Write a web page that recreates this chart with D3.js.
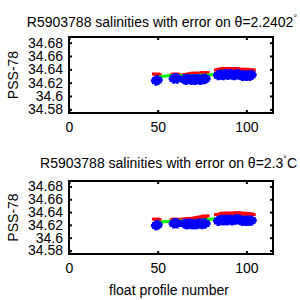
<!DOCTYPE html>
<html>
<head>
<meta charset="utf-8">
<script src="https://cdn.jsdelivr.net/npm/d3@7"></script>
<style>
  body { margin: 0; background: #fff; }
  text { font-family: "Liberation Sans", Arial, sans-serif; fill: #000; }
</style>
</head>
<body>
<svg id="chart" width="300" height="300"></svg>
<script>
// profile numbers that have data
const profiles = [49, 50, 59, 60, 61, 65, 66, 67, 68, 69, 70, 71, 72, 73, 74, 75, 76, 77,
  84, 85, 86, 87, 88, 89, 90, 91, 92, 93, 94, 95, 96, 97, 98, 99, 100, 101, 102, 103];

// top panel (theta = 2.2402)
const floatTop = [34.623, 34.624, 34.626, 34.627, 34.626, 34.625, 34.624, 34.626, 34.625, 34.624,
  34.625, 34.624, 34.625, 34.625, 34.624, 34.625, 34.625, 34.626,
  34.631, 34.632, 34.632, 34.631, 34.633, 34.632, 34.632, 34.633, 34.632, 34.631,
  34.632, 34.633, 34.632, 34.631, 34.630, 34.631, 34.630, 34.631, 34.630, 34.632];
const mappedTop = [34.629, 34.628, 34.628, 34.629, 34.628, 34.627, 34.628, 34.628, 34.629, 34.629,
  34.630, 34.630, 34.630, 34.630, 34.629, 34.630, 34.631, 34.631,
  34.635, 34.636, 34.636, 34.637, 34.637, 34.637, 34.637, 34.636, 34.636, 34.637,
  34.637, 34.636, 34.636, 34.635, 34.636, 34.635, 34.636, 34.635, 34.635, 34.635];
const calTop = [34.629, 34.629, 34.631, 34.631, 34.631, 34.630, 34.630, 34.630, 34.630, 34.630,
  34.630, 34.630, 34.630, 34.631, 34.631, 34.631, 34.631, 34.631,
  34.633, 34.634, 34.634, 34.635, 34.635, 34.635, 34.636, 34.636, 34.636, 34.636,
  34.636, 34.636, 34.636, 34.635, 34.635, 34.635, 34.635, 34.634, 34.634, 34.634];

// bottom panel (theta = 2.3)
const floatBot = [34.619, 34.620, 34.622, 34.623, 34.622, 34.622, 34.621, 34.621, 34.622, 34.621,
  34.621, 34.621, 34.621, 34.622, 34.622, 34.621, 34.622, 34.622,
  34.626, 34.627, 34.628, 34.627, 34.628, 34.627, 34.628, 34.628, 34.627, 34.628,
  34.628, 34.629, 34.628, 34.627, 34.626, 34.627, 34.626, 34.627, 34.626, 34.627];
const mappedBot = [34.625, 34.624, 34.624, 34.625, 34.624, 34.625, 34.625, 34.625, 34.626, 34.626,
  34.626, 34.626, 34.627, 34.627, 34.628, 34.628, 34.629, 34.630,
  34.632, 34.632, 34.633, 34.634, 34.634, 34.634, 34.634, 34.634, 34.634, 34.634,
  34.634, 34.635, 34.634, 34.633, 34.634, 34.633, 34.634, 34.633, 34.633, 34.632];
const calBot = [34.624, 34.624, 34.626, 34.627, 34.626, 34.626, 34.626, 34.626, 34.626, 34.626,
  34.626, 34.626, 34.627, 34.627, 34.627, 34.627, 34.628, 34.628,
  34.630, 34.631, 34.631, 34.632, 34.632, 34.632, 34.633, 34.633, 34.633, 34.633,
  34.633, 34.633, 34.633, 34.632, 34.632, 34.632, 34.632, 34.631, 34.631, 34.631];

const errMapped = 0.004;
const errFloat = 0.003;

const yTicks = [34.58, 34.6, 34.62, 34.64, 34.66, 34.68];
const yTickLabels = ["34.58", "34.6", "34.62", "34.64", "34.66", "34.68"];
const xTicks = [0, 50, 100];

const panels = [
  { title: "R5903788 salinities with error on \u03b8=2.2402", unit: "\u00b0", top: 37, bottom: 113,
    titleY: 27, float: floatTop, mapped: mappedTop, cal: calTop, xlabel: false },
  { title: "R5903788 salinities with error on \u03b8=2.3", unit: "\u00b0C", top: 181, bottom: 254,
    titleY: 168, float: floatBot, mapped: mappedBot, cal: calBot, xlabel: true }
];

const svg = d3.select("#chart");
const left = 69, right = 273;

const x = d3.scaleLinear().domain([0, 115]).range([left, right]);

panels.forEach(p => {
  const y = d3.scaleLinear().domain([34.5745, 34.6885]).range([p.bottom, p.top]);
  const g = svg.append("g");

  // title with superscript degree sign
  const t = g.append("text")
    .attr("x", 297)
    .attr("y", p.titleY)
    .attr("text-anchor", "end")
    .style("font-size", "14px")
    .text(p.title);
  t.append("tspan").attr("dy", -6).style("font-size", "9px").text(p.unit.slice(0, 1));
  if (p.unit.length > 1) t.append("tspan").attr("dy", 6).style("font-size", "14px").text(p.unit.slice(1));

  // ylabel
  g.append("text")
    .attr("transform", `translate(18,${(p.top + p.bottom) / 2}) rotate(-90)`)
    .attr("text-anchor", "middle")
    .style("font-size", "14px")
    .text("PSS-78");

  const plot = g.append("g");

  // mapped salinity error bars (red)
  profiles.forEach((pr, i) => {
    const cx = x(pr), lo = y(p.mapped[i] - errMapped), hi = y(p.mapped[i] + errMapped);
    plot.append("line").attr("x1", cx).attr("x2", cx).attr("y1", lo).attr("y2", hi)
      .attr("stroke", "#f00").attr("stroke-width", 2);
    [lo, hi].forEach(yy => plot.append("line")
      .attr("x1", cx - 4).attr("x2", cx + 4).attr("y1", yy).attr("y2", yy)
      .attr("stroke", "#f00").attr("stroke-width", 3));
  });

  // calibrated (green)
  plot.append("path")
    .datum(profiles.map((pr, i) => [pr, p.cal[i]]))
    .attr("fill", "none")
    .attr("stroke", "#0f0")
    .attr("stroke-width", 3)
    .attr("d", d3.line().x(d => x(d[0])).y(d => y(d[1])));

  // float salinity with error (blue)
  profiles.forEach((pr, i) => {
    const cx = x(pr), cy = y(p.float[i]);
    const lo = y(p.float[i] - errFloat), hi = y(p.float[i] + errFloat);
    plot.append("line").attr("x1", cx).attr("x2", cx).attr("y1", lo).attr("y2", hi)
      .attr("stroke", "#00f").attr("stroke-width", 3);
    [lo, hi].forEach(yy => plot.append("line")
      .attr("x1", cx - 4).attr("x2", cx + 4).attr("y1", yy).attr("y2", yy)
      .attr("stroke", "#00f").attr("stroke-width", 3));
    plot.append("path")
      .attr("d", `M${cx - 5},${cy}H${cx + 5}M${cx},${cy - 5}V${cy + 5}`)
      .attr("stroke", "#00f").attr("stroke-width", 3);
  });

  // axes: ticks pointing inward
  const yAxis = d3.axisLeft(y).tickValues(yTicks).tickSize(-3).tickPadding(6)
    .tickFormat((d, i) => yTickLabels[i]);
  const ya = g.append("g").attr("transform", `translate(${left},0)`).call(yAxis);
  const yr = g.append("g").attr("transform", `translate(${right},0)`)
    .call(d3.axisRight(y).tickValues(yTicks).tickSize(-3).tickFormat(""));
  const xAxis = d3.axisBottom(x).tickValues(xTicks).tickSize(-3).tickPadding(9);
  const xa = g.append("g").attr("transform", `translate(0,${p.bottom})`).call(xAxis);
  const xt = g.append("g").attr("transform", `translate(0,${p.top})`)
    .call(d3.axisTop(x).tickValues(xTicks).tickSize(-3).tickFormat(""));

  [ya, yr, xa, xt].forEach(a => {
    a.select(".domain").remove();
    a.selectAll("line").attr("stroke", "#000").attr("stroke-width", 2);
    a.selectAll("text").attr("font-family", "Liberation Sans, Arial, sans-serif");
  });
  ya.selectAll("text").style("font-size", "14px");
  xa.selectAll("text").style("font-size", "14px");

  // box
  g.append("rect")
    .attr("x", left).attr("y", p.top)
    .attr("width", right - left).attr("height", p.bottom - p.top)
    .attr("fill", "none").attr("stroke", "#000").attr("stroke-width", 2);

  if (p.xlabel) {
    g.append("text")
      .attr("x", 169)
      .attr("y", 295)
      .attr("text-anchor", "middle")
      .style("font-size", "14px")
      .text("float profile number");
  }
});
</script>
</body>
</html>
